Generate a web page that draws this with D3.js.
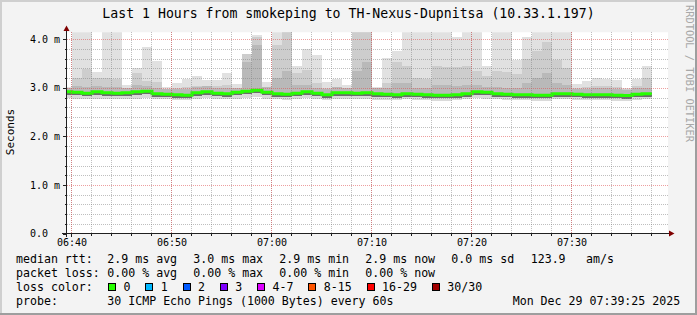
<!DOCTYPE html>
<html>
<head>
<meta charset="utf-8">
<script src="https://cdn.jsdelivr.net/npm/d3@7"></script>
<style>
html, body { margin: 0; padding: 0; background: #f3f3f3; }
svg { display: block; }
text { font-family: "DejaVu Sans Mono", monospace; fill: #000; }
</style>
</head>
<body>
<svg id="chart" width="697" height="315"></svg>
<script>
// ---- data (values in ms) ----
const rangeStart = new Date(2025, 11, 29, 6, 39, 30);
const rangeEnd = new Date(2025, 11, 29, 7, 39, 30);
const firstStepEnd = new Date(2025, 11, 29, 6, 40, 0);

const medianRtt = [2.92, 2.91, 2.89, 2.92, 2.90, 2.89, 2.90, 2.92, 2.93, 2.88, 2.87, 2.86, 2.85, 2.90, 2.92,
  2.89, 2.88, 2.91, 2.93, 2.95, 2.91, 2.88, 2.87, 2.89, 2.92, 2.89, 2.86, 2.90, 2.90, 2.89,
  2.90, 2.88, 2.87, 2.86, 2.88, 2.87, 2.86, 2.85, 2.85, 2.86, 2.88, 2.92, 2.91, 2.88, 2.87,
  2.86, 2.86, 2.85, 2.85, 2.88, 2.88, 2.87, 2.86, 2.86, 2.86, 2.85, 2.84, 2.87, 2.88];

const smokeMin = [2.79, 2.77, 2.76, 2.78, 2.77, 2.76, 2.77, 2.78, 2.79, 2.76, 2.76, 2.75, 2.74, 2.77, 2.79,
  2.77, 2.76, 2.78, 2.80, 2.81, 2.78, 2.76, 2.75, 2.77, 2.79, 2.76, 2.74, 2.77, 2.77, 2.76,
  2.77, 2.75, 2.75, 2.74, 2.76, 2.75, 2.74, 2.73, 2.73, 2.74, 2.76, 2.79, 2.78, 2.76, 2.75,
  2.74, 2.74, 2.73, 2.73, 2.76, 2.76, 2.75, 2.74, 2.74, 2.74, 2.73, 2.72, 2.75, 2.76];

const smokeMax = [3.02, 4.3, 4.3, 3.32, 4.3, 4.3, 3.06, 3.40, 3.84, 3.55, 3.01, 3.09, 3.19, 3.24, 3.17,
  3.17, 3.31, 3.07, 3.69, 4.08, 3.12, 4.3, 4.3, 3.44, 3.81, 3.67, 3.12, 3.19, 3.05, 4.3,
  4.3, 3.02, 3.61, 3.75, 4.3, 4.3, 4.3, 4.3, 4.3, 4.04, 4.3, 4.3, 3.44, 4.3, 4.3,
  3.57, 4.05, 4.3, 4.3, 4.3, 4.3, 3.07, 3.14, 3.20, 3.19, 3.16, 2.99, 3.19, 3.45];

const smokeUpper = [2.98, 3.21, 3.39, 3.20, 3.20, 3.19, 2.99, 3.30, 3.15, 3.13, 2.98, 3.00, 3.02, 3.03, 3.02,
  3.03, 3.05, 2.99, 3.69, 4.05, 3.00, 3.88, 4.3, 3.30, 3.36, 3.10, 3.00, 3.02, 2.98, 4.3,
  4.3, 2.98, 3.10, 3.53, 3.46, 3.20, 3.19, 3.46, 3.43, 3.43, 3.46, 3.34, 3.25, 3.34, 3.32,
  3.29, 3.60, 3.75, 3.95, 3.57, 3.40, 3.00, 3.02, 3.03, 3.03, 3.02, 2.97, 3.03, 3.20];

const smokeQ3 = [3.00, 3.03, 3.02, 3.03, 3.02, 3.01, 3.00, 3.05, 3.04, 3.00, 2.98, 2.97, 2.97, 3.02, 3.03,
  3.00, 3.00, 3.00, 3.53, 3.88, 3.02, 3.20, 3.34, 3.05, 3.06, 3.00, 2.98, 3.01, 2.99,
  3.34, 3.53, 2.99, 3.00, 3.10, 3.10, 3.00, 3.00, 3.05, 3.05, 3.04, 3.06, 3.05, 3.02, 3.02, 3.00,
  3.00, 3.10, 3.20, 3.30, 3.10, 3.05, 2.98, 2.98, 2.99, 2.99, 2.97, 2.95, 2.99, 3.00];

const smokeQ1 = [2.86, 2.85, 2.83, 2.86, 2.84, 2.83, 2.84, 2.86, 2.87, 2.82, 2.81, 2.80, 2.79, 2.84, 2.86,
  2.83, 2.82, 2.85, 2.87, 2.89, 2.85, 2.82, 2.81, 2.83, 2.86, 2.83, 2.80, 2.84, 2.84, 2.83,
  2.84, 2.82, 2.81, 2.80, 2.82, 2.81, 2.80, 2.79, 2.79, 2.80, 2.82, 2.86, 2.85, 2.82, 2.81,
  2.80, 2.80, 2.79, 2.79, 2.82, 2.82, 2.81, 2.80, 2.80, 2.80, 2.79, 2.78, 2.81, 2.82];

// lost pings per step (all zero in this hour)
const lostPings = new Array(59).fill(0);

const lossLabels = ["0", "1", "2", "3", "4-7", "8-15", "16-29", "30/30"];
const lossUpper = [0, 1, 2, 3, 7, 15, 29, 30];
const lossColors = ["#26ff00", "#00b8ff", "#0059ff", "#7e00ff", "#dd00ff", "#ff5500", "#ff0000", "#a10000"];

const titleText = "Last 1 Hours from smokeping to TH-Nexus-Dupnitsa (10.33.1.197)";
const yLabel = "Seconds";
const yTickLabels = ["0.0", "1.0 m", "2.0 m", "3.0 m", "4.0 m"];
const statRows = [
  ["median rtt:", "2.9 ms avg", "3.0 ms max", "2.9 ms min", "2.9 ms now", "0.0 ms sd", "123.9", "am/s"],
  ["packet loss:", "0.00 % avg", "0.00 % max", "0.00 % min", "0.00 % now"]
];
const probeText = "30 ICMP Echo Pings (1000 Bytes) every 60s";
const stampText = "Mon Dec 29 07:39:25 2025";
const watermark = "RRDTOOL / TOBI OETIKER";

// ---- layout ----
const W = 697, H = 315;
const plot = {left: 67, right: 667, top: 32.3, bottom: 233.5};

const svg = d3.select("#chart");

svg.append("rect").attr("width", W).attr("height", H).attr("fill", "#f3f3f3");
// rrdtool style shading around the image
svg.append("path").attr("d", `M0,0H${W}V2H2V${H}H0Z`).attr("fill", "#cfcfcf");
svg.append("path").attr("d", `M${W},${H}H0V${H - 2}H${W - 2}V0H${W}Z`).attr("fill", "#9e9e9e");

const x = d3.scaleTime().domain([rangeStart, rangeEnd]).range([plot.left, plot.right]);
const y = d3.scaleLinear().domain([0, 4.144]).range([plot.bottom, plot.top]);

// canvas
svg.append("rect")
  .attr("x", plot.left).attr("y", plot.top)
  .attr("width", plot.right - plot.left + 1).attr("height", plot.bottom - plot.top)
  .attr("fill", "#fff");

svg.append("clipPath").attr("id", "clip")
  .append("rect")
  .attr("x", plot.left).attr("y", plot.top)
  .attr("width", plot.right - plot.left + 1).attr("height", plot.bottom - plot.top);

const steps = medianRtt.map((m, i) => {
  const t1 = d3.timeMinute.offset(firstStepEnd, i);
  const t0 = i === 0 ? rangeStart : d3.timeMinute.offset(t1, -1);
  return {t0, t1, med: m, min: smokeMin[i], max: smokeMax[i], upper: smokeUpper[i],
    q1: smokeQ1[i], q3: smokeQ3[i], lost: lostPings[i]};
});

// smoke: nested bands, darker toward the median
const bands = [
  {lo: "min", hi: "max", color: "#e1e1e1"},
  {lo: "q1", hi: "upper", color: "#cdcdcd"},
  {lo: "q1", hi: "q3", color: "#b9b9b9"},
  {lo: "min", hi: "q1", color: "#dadada"},
  {lo: "q1", hi: "med", color: "#6c6c6c"}
];

const smoke = svg.append("g").attr("clip-path", "url(#clip)").attr("shape-rendering", "crispEdges");
bands.forEach(b => {
  smoke.append("g").selectAll("rect")
    .data(steps)
    .join("rect")
    .attr("x", d => x(d.t0))
    .attr("width", d => x(d.t1) - x(d.t0))
    .attr("y", d => y(Math.max(d[b.lo], d[b.hi])))
    .attr("height", d => Math.abs(y(d[b.lo]) - y(d[b.hi])))
    .attr("fill", b.color);
});

// median line, coloured by loss
function lossColor(n) {
  const idx = lossUpper.findIndex(u => n <= u);
  return lossColors[idx < 0 ? lossColors.length - 1 : idx];
}
const medLine = d3.line().x(d => x(d[0])).y(d => y(d[1])).curve(d3.curveStepAfter);
const medPts = steps.map(d => [d.t0, d.med]);
medPts.push([steps[steps.length - 1].t1, steps[steps.length - 1].med]);
svg.append("path")
  .attr("clip-path", "url(#clip)")
  .attr("d", medLine(medPts))
  .attr("fill", "none")
  .attr("stroke", lossColor(d3.max(lostPings)))
  .attr("stroke-width", 3);

// grid on top of the data
const grid = svg.append("g").attr("shape-rendering", "crispEdges");
const minorX = d3.timeMinute.every(2).range(rangeStart, rangeEnd);
const majorX = d3.timeMinute.every(10).range(rangeStart, rangeEnd);
const minorY = y.ticks(20).filter(v => v > 0 && Math.abs(v - Math.round(v)) > 1e-6);
const majorY = y.ticks(4).filter(v => v > 0);

grid.selectAll(".gx").data(minorX).join("line")
  .attr("x1", d => x(d) - 0.5).attr("x2", d => x(d) - 0.5)
  .attr("y1", plot.top).attr("y2", plot.bottom)
  .attr("stroke", "rgba(128,128,128,0.5)").attr("stroke-dasharray", "1,1");
grid.selectAll(".gy").data(minorY).join("line")
  .attr("x1", plot.left).attr("x2", plot.right + 1)
  .attr("y1", d => Math.round(y(d)) + 0.5).attr("y2", d => Math.round(y(d)) + 0.5)
  .attr("stroke", "rgba(128,128,128,0.5)").attr("stroke-dasharray", "1,1");
grid.selectAll(".mx").data(majorX).join("line")
  .attr("x1", d => x(d) - 0.5).attr("x2", d => x(d) - 0.5)
  .attr("y1", plot.top).attr("y2", plot.bottom)
  .attr("stroke", "rgba(222,80,80,0.55)").attr("stroke-dasharray", "1,1");
grid.selectAll(".my").data(majorY).join("line")
  .attr("x1", plot.left).attr("x2", plot.right + 1)
  .attr("y1", d => Math.round(y(d)) + 0.5).attr("y2", d => Math.round(y(d)) + 0.5)
  .attr("stroke", "rgba(222,80,80,0.55)").attr("stroke-dasharray", "1,1");

// axes
const axis = svg.append("g").attr("shape-rendering", "crispEdges").attr("stroke", "#202020");
axis.append("line").attr("x1", 62).attr("x2", 670).attr("y1", 233.5).attr("y2", 233.5);
axis.append("line").attr("x1", 66.5).attr("x2", 66.5).attr("y1", 237).attr("y2", 30);
axis.selectAll(".ty").data(y.ticks(20)).join("line")
  .attr("x1", d => Number.isInteger(Math.round(d * 10) / 10) ? 63 : 65).attr("x2", 66)
  .attr("y1", d => Math.round(y(d)) + 0.5).attr("y2", d => Math.round(y(d)) + 0.5);
axis.selectAll(".tx").data(minorX).join("line")
  .attr("x1", d => x(d) - 0.5).attr("x2", d => x(d) - 0.5)
  .attr("y1", 234).attr("y2", d => d.getMinutes() % 10 === 0 ? 237 : 235.5);

// arrows
svg.append("path").attr("d", "M63.5,31 L66.5,25.5 L69.5,31 Z").attr("fill", "#7f0000");
svg.append("path").attr("d", "M669,230.5 L674.5,233.5 L669,236.5 Z").attr("fill", "#7f0000");

// tick labels
svg.append("g").selectAll("text").data(y.ticks(4)).join("text")
  .attr("x", 30).attr("y", d => y(d) + 3.6)
  .style("font-size", "10px")
  .text((d, i) => yTickLabels[i]);

const fmt = d3.timeFormat("%H:%M");
svg.append("g").selectAll("text").data(majorX).join("text")
  .attr("x", d => x(d)).attr("y", 245.5)
  .attr("text-anchor", "middle")
  .style("font-size", "10px")
  .text(d => fmt(d));

// title, y label, watermark
svg.append("text").attr("x", 348.5).attr("y", 18)
  .attr("text-anchor", "middle").style("font-size", "13.2px").text(titleText);
svg.append("text").attr("transform", "translate(14,132) rotate(-90)")
  .attr("text-anchor", "middle").style("font-size", "11px").text(yLabel);
svg.append("text").attr("transform", "translate(685.5,5) rotate(90)")
  .style("font-size", "10px").style("fill", "#a8a8a8")
  .attr("textLength", 137).attr("lengthAdjust", "spacingAndGlyphs")
  .text(watermark);

// legend
const legendFont = "11.6px";
const colX = [16, 107.3, 193.3, 279.3, 365.3, 451.3, 530.7, 586];
statRows.forEach((row, r) => {
  row.forEach((s, c) => {
    svg.append("text").attr("x", colX[c]).attr("y", 263 + r * 14)
      .style("font-size", legendFont).style("white-space", "pre").text(s);
  });
});

svg.append("text").attr("x", 16).attr("y", 291).style("font-size", legendFont).text("loss color:");
let lx = 108.5;
lossLabels.forEach((lab, i) => {
  svg.append("rect").attr("x", lx).attr("y", 283.5).attr("width", 7).attr("height", 7)
    .attr("fill", lossColors[i]).attr("stroke", "#000").attr("stroke-width", 1)
    .attr("shape-rendering", "crispEdges");
  svg.append("text").attr("x", lx + 15).attr("y", 291).style("font-size", legendFont).text(lab);
  lx = lx + 15 + lab.length * 6.98 + 15.3;
});

svg.append("text").attr("x", 16).attr("y", 305).style("font-size", legendFont).text("probe:");
svg.append("text").attr("x", 107.3).attr("y", 305).style("font-size", legendFont).text(probeText);
svg.append("text").attr("x", 512.7).attr("y", 305).style("font-size", legendFont).text(stampText);
</script>
</body>
</html>
